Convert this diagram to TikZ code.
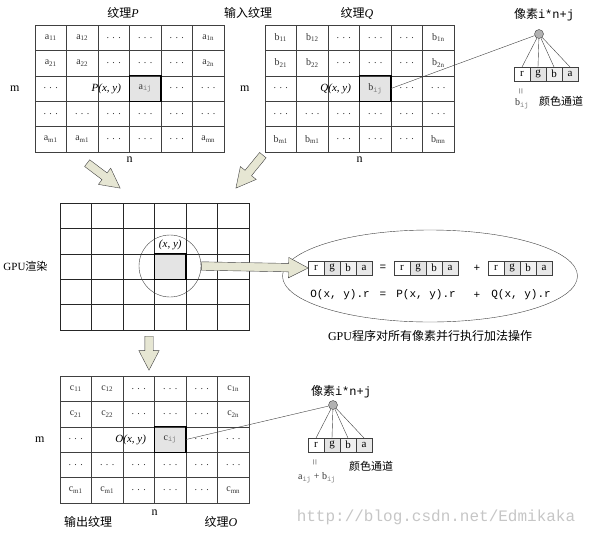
\documentclass[tikz,border=0pt]{standalone}
\usepackage{fontspec}
\setmainfont{Liberation Serif}
\setmonofont{Liberation Mono}
\newfontfamily\cjk{Noto Sans CJK SC}
\usepackage{tikz}
\usetikzlibrary{shapes.geometric,shapes.arrows,calc}
\usetikzlibrary{backgrounds,positioning}

\definecolor{linegray}{HTML}{404040}
\definecolor{hlgray}{HTML}{E4E4E4}
\definecolor{arrowfill}{HTML}{E6E6D3}

\newcommand\dd{.\,\,.\,\,.}
\newcommand\subij{\textsubscript{\textcolor{gray}{\ttfamily ij}}}

\tikzset{
  cell/.style={draw=linegray, minimum width=31.5pt, minimum height=25.4pt, inner sep=0pt, outer sep=0pt, text=black!80, font=\fontsize{10}{12}\selectfont},
  hlframe/.style={draw=black, line width=1.1pt},
  chan/.style={draw=linegray, minimum width=16pt, minimum height=14pt, inner sep=0pt, outer sep=0pt, font=\fontsize{11}{12}\selectfont},
  fat/.style={single arrow, draw=linegray, fill=arrowfill, inner xsep=0pt, inner ysep=4pt, single arrow head extend=6pt, single arrow tip angle=55},
  lbl/.style={font=\fontsize{12}{14}\selectfont},
  xy/.style={font=\itshape\fontsize{11}{12}\selectfont},
  mono/.style={font=\ttfamily\fontsize{11}{12}\selectfont},
  vereq/.style={rotate=90, font=\fontsize{11}{12}\selectfont, inner sep=0pt, text=black!70},
  pix/.style={circle, draw=linegray, fill=gray!60, minimum size=9pt, inner sep=0pt}
}

\newcommand\texgrid[4]{%
  \foreach \row [count=\r] in {%
    {#4\textsubscript{11},#4\textsubscript{12},\dd,\dd,\dd,#4\textsubscript{1n}},
    {#4\textsubscript{21},#4\textsubscript{22},\dd,\dd,\dd,#4\textsubscript{2n}},
    {\dd,{},{},#4\subij,\dd,\dd},
    {\dd,\dd,\dd,\dd,\dd,\dd},
    {#4\textsubscript{m1},#4\textsubscript{m1},\dd,\dd,\dd,#4\textsubscript{mn}}}
    \foreach \t [count=\c] in \row
      \node[cell] (#1-\r-\c) at ({#2+(\c-0.5)*31.5},{#3+(\r-0.5)*25.4}) {\t};
}

\newcommand\rgba[2]{%
  \node[chan, anchor=west] (#1r) at (#2) {r};
  \node[chan, fill=gray!22, right=0pt of #1r] (#1g) {g};
  \node[chan, fill=gray!12, right=0pt of #1g] (#1b) {b};
  \node[chan, fill=gray!18, right=0pt of #1b] (#1a) {a};
}

\newcommand\bigarrow[2]{%
  \path let \p1=($(#2)-(#1)$), \n1={veclen(\x1,\y1)}, \n2={atan2(\y1,\x1)} in
    (#1) node[fat, anchor=tail, rotate=\n2, minimum height=\n1] {};
}

\begin{document}
\begin{tikzpicture}[x=1pt,y=-1pt]
\useasboundingbox (0,0) rectangle (593,538);

\texgrid{P}{35}{25}{a}
\texgrid{Q}{265}{25}{b}
\texgrid{O}{60}{376}{c}
\foreach \r in {1,...,5}
  \foreach \c in {1,...,6}
    \node[cell, draw=black!85] (G-\r-\c) at ({60+(\c-0.5)*31.5},{203+(\r-0.5)*25.4}) {};

\begin{scope}[on background layer]
  \foreach \g in {P,Q,O,G}
    \fill[hlgray] (\g-3-4.north west) rectangle (\g-3-4.south east);
\end{scope}
\foreach \g in {P,Q,O,G}
  \draw[hlframe] (\g-3-4.north west) rectangle (\g-3-4.south east);

\node[xy, anchor=east] at ([xshift=-5pt]P-3-4.west) {P(x, y)};
\node[xy, anchor=east] at ([xshift=-5pt]Q-3-4.west) {Q(x, y)};
\node[xy, anchor=east] at ([xshift=-5pt]O-3-4.west) {O(x, y)};

\node[lbl] at (123,13) {{\cjk 纹理}\textit{P}};
\node[lbl] at (248,13) {\cjk 输入纹理};
\node[lbl] at (357,13) {{\cjk 纹理}\textit{Q}};
\node[lbl, left=12pt of P-3-1] {m};
\node[lbl, left=12pt of Q-3-1] {m};
\node[lbl, below=1pt of P-5-3.south east] {n};
\node[lbl, below=1pt of Q-5-3.south east] {n};

\node[font=\fontsize{11}{13}\selectfont, left=9pt of G-3-1] {GPU{\cjk 渲染}};
\node[circle, draw=linegray, minimum size=62pt] (lens) at (170,266) {};
\node[xy, above=0pt of G-3-4] {(x, y)};

\node[lbl, left=12pt of O-3-1] {m};
\node[lbl, below=3pt of O-5-3.south east] {n};
\node[lbl] at (88,522) {\cjk 输出纹理};
\node[lbl] at (221,522) {{\cjk 纹理}\textit{O}};

\node[pix] (pixQ) at (539,34) {};
\node[lbl] at (544,15) {{\cjk 像素}\texttt{i*n+j}};
\rgba{q}{514,74}
\foreach \k in {r,g,b,a} \draw[linegray] (pixQ) -- (q\k.north);
\draw[linegray] (Q-3-4.east) -- (pixQ);
\node[vereq] at (522,91) {=};
\node[cell, draw=none, minimum size=0pt] at (522,104) {b\subij};
\node[font=\fontsize{11}{12}\selectfont] at (561,101) {\cjk 颜色通道};

\node[pix] (pixO) at (333,405) {};
\node[lbl] at (341,392) {{\cjk 像素}\texttt{i*n+j}};
\rgba{o}{308,445}
\foreach \k in {r,g,b,a} \draw[linegray] (pixO) -- (o\k.north);
\draw[linegray] (O-3-4.east) -- (pixO);
\node[vereq] at (316,462) {=};
\node[cell, draw=none, minimum size=0pt] at (317,478) {a\subij{} + b\subij};
\node[font=\fontsize{11}{12}\selectfont] at (371,466) {\cjk 颜色通道};

\node[ellipse, draw=linegray, minimum width=295pt, minimum height=92pt, inner sep=0pt] (ell) at (430,276) {};
\rgba{e}{308,268}
\rgba{f}{394,268}
\rgba{h}{488,268}
\node[mono] at (383,268) {=};
\node[mono] at (477,268) {+};
\node[mono] at (340,295) {O(x, y).r};
\node[mono] at (383,295) {=};
\node[mono] at (426,295) {P(x, y).r};
\node[mono] at (477,295) {+};
\node[mono] at (521,295) {Q(x, y).r};
\node[lbl] at (430,336) {GPU{\cjk 程序对所有像素并行执行加法操作}};

\coordinate (pa) at (87,163);
\coordinate (pb) at (120,188);
\coordinate (qa) at (263,155);
\coordinate (qb) at (236,188);
\coordinate (ga) at (149,336);
\coordinate (gb) at (149,370);
\bigarrow{pa}{pb}
\bigarrow{qa}{qb}
\bigarrow{ga}{gb}
\bigarrow{lens.east}{er.west}

\node[text=gray!45, font=\ttfamily\fontsize{16}{18}\selectfont] at (436,517) {http://blog.csdn.net/Edmikaka};
\end{tikzpicture}
\end{document}
